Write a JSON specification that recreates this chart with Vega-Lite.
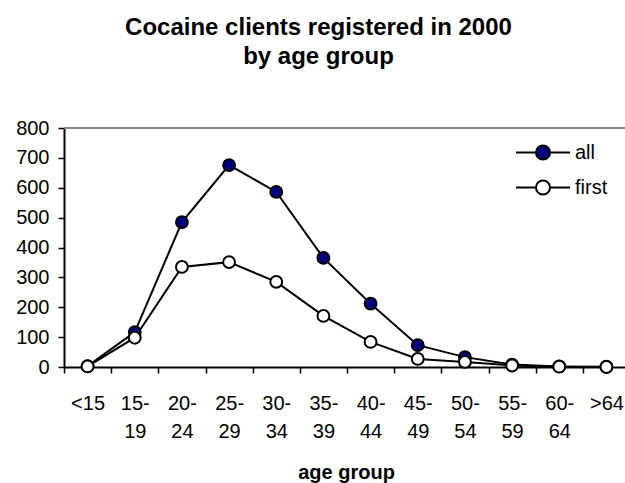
{
  "$schema": "https://vega.github.io/schema/vega-lite/v6.json",
  "width": 561,
  "height": 239,
  "autosize": "none",
  "padding": {"left": 64, "top": 128, "right": 0, "bottom": 116},
  "background": "white",
  "config": {"font": "Liberation Sans", "view": {"stroke": null}},
  "title": {
    "text": ["Cocaine clients registered in 2000", "by age group"],
    "fontSize": 24,
    "fontWeight": "bold",
    "lineHeight": 29,
    "color": "black",
    "anchor": "middle",
    "frame": "group",
    "dx": -26,
    "offset": 49
  },
  "data": {
    "values": [
      {"age": "<15", "series": "all", "value": 3},
      {"age": "15-19", "series": "all", "value": 117},
      {"age": "20-24", "series": "all", "value": 485},
      {"age": "25-29", "series": "all", "value": 676},
      {"age": "30-34", "series": "all", "value": 586},
      {"age": "35-39", "series": "all", "value": 365},
      {"age": "40-44", "series": "all", "value": 212},
      {"age": "45-49", "series": "all", "value": 73},
      {"age": "50-54", "series": "all", "value": 33},
      {"age": "55-59", "series": "all", "value": 8},
      {"age": "60-64", "series": "all", "value": 2},
      {"age": ">64", "series": "all", "value": 1},
      {"age": "<15", "series": "first", "value": 2},
      {"age": "15-19", "series": "first", "value": 98},
      {"age": "20-24", "series": "first", "value": 335},
      {"age": "25-29", "series": "first", "value": 351},
      {"age": "30-34", "series": "first", "value": 285},
      {"age": "35-39", "series": "first", "value": 171},
      {"age": "40-44", "series": "first", "value": 84},
      {"age": "45-49", "series": "first", "value": 27},
      {"age": "50-54", "series": "first", "value": 17},
      {"age": "55-59", "series": "first", "value": 5},
      {"age": "60-64", "series": "first", "value": 1},
      {"age": ">64", "series": "first", "value": 0}
    ]
  },
  "encoding": {
    "x": {
      "field": "age",
      "type": "ordinal",
      "sort": ["<15", "15-19", "20-24", "25-29", "30-34", "35-39", "40-44", "45-49", "50-54", "55-59", "60-64", ">64"],
      "scale": {"type": "band", "paddingInner": 0, "paddingOuter": 0, "range": [0, 566]},
      "axis": {
        "title": "age group",
        "titleFontSize": 20,
        "titleFontWeight": "bold",
        "titleColor": "black",
        "titleX": 282,
        "titleY": 105,
        "titleAlign": "center",
        "titleBaseline": "middle",
        "labelAngle": 0,
        "labelFontSize": 20,
        "labelColor": "black",
        "labelBaseline": "top",
        "labelLineHeight": 28,
        "labelPadding": 20,
        "labelExpr": "length(datum.label) > 3 ? [slice(datum.label, 0, 3), slice(datum.label, 3)] : datum.label",
        "tickBand": "extent",
        "tickSize": 6,
        "tickColor": "black",
        "tickWidth": 1.5,
        "domainColor": "black",
        "domainWidth": 2,
        "grid": false
      }
    },
    "y": {
      "field": "value",
      "type": "quantitative",
      "scale": {"domain": [0, 800]},
      "axis": {
        "title": null,
        "values": [0, 100, 200, 300, 400, 500, 600, 700, 800],
        "labelFontSize": 20,
        "labelColor": "black",
        "labelPadding": 9,
        "tickSize": 6,
        "tickColor": "black",
        "tickWidth": 1.5,
        "domainColor": "black",
        "domainWidth": 2,
        "grid": false
      }
    }
  },
  "layer": [
    {
      "mark": {"type": "rule", "color": "#888888", "strokeWidth": 1.5},
      "encoding": {"y": {"datum": 800}, "x": {"value": 0}, "x2": {"value": 566}}
    },
    {
      "mark": {"type": "line", "color": "black", "strokeWidth": 2},
      "encoding": {"detail": {"field": "series"}}
    },
    {
      "mark": {"type": "point", "shape": "circle", "filled": true, "size": 140, "stroke": "black", "strokeWidth": 2, "opacity": 1},
      "encoding": {
        "fill": {
          "field": "series",
          "type": "nominal",
          "scale": {"domain": ["all", "first"], "range": ["#000080", "white"]},
          "legend": {
            "title": null,
            "orient": "none",
            "legendX": 451,
            "legendY": 8,
            "symbolType": "M-1,0L-0.26,0M0.26,0L1,0M-0.26,0A0.26,0.26,0,1,0,0.26,0A0.26,0.26,0,1,0,-0.26,0Z",
            "symbolSize": 2916,
            "symbolStrokeColor": "black",
            "symbolStrokeWidth": 2,
            "symbolOpacity": 1,
            "clipHeight": 33,
            "rowPadding": 2,
            "labelOffset": 4,
            "labelFontSize": 20,
            "labelColor": "black",
            "labelBaseline": "middle"
          }
        }
      }
    }
  ]
}
